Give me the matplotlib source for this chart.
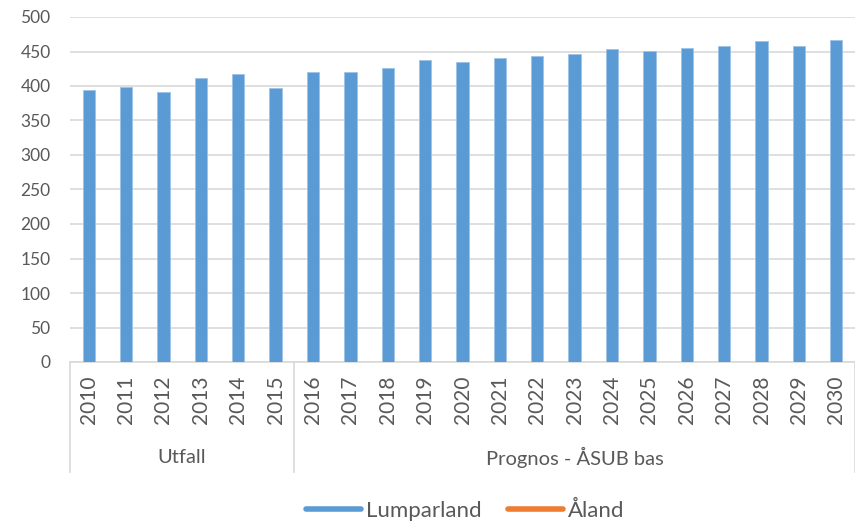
import matplotlib.pyplot as plt
from matplotlib.lines import Line2D
import matplotlib.transforms as mtransforms

plt.rcParams['font.family'] = ['Lato', 'DejaVu Sans']

# data
years = [str(y) for y in range(2010, 2031)]
lumparland = [394, 398, 392, 412, 418, 397, 420, 420, 426, 437, 435, 440,
              444, 446, 453, 451, 455, 458, 465, 458, 466]
groups = ['Utfall', 'Prognos - ÅSUB bas']
group_sizes = [6, 15]

grey = '#595959'
gridc = '#d9d9d9'
blue = '#5b9bd5'
orange = '#ed7d31'

fig = plt.figure(figsize=(8.55, 5.23), dpi=100)
ax = fig.add_axes([70 / 855, 1 - 362 / 523, 785 / 855, 345 / 523])

x = list(range(len(years)))
ax.bar(x, lumparland, width=0.33, color=blue, edgecolor='#9dc3e6', linewidth=0.6, zorder=3)

ax.set_xlim(-0.5, len(years) - 0.5)
ax.set_ylim(0, 500)
ax.set_yticks(range(0, 501, 50))
ax.yaxis.grid(True, color=gridc, linewidth=1.2, zorder=0)
for s in ['top', 'right', 'left']:
    ax.spines[s].set_visible(False)
ax.spines['bottom'].set_color(gridc)
ax.spines['bottom'].set_linewidth(1.2)

ax.set_xticks(x)
ax.set_xticklabels(years, rotation=90)
ax.tick_params(axis='x', length=0, pad=10, labelsize=15, labelcolor=grey)
ax.tick_params(axis='y', length=0, pad=14, labelsize=12.5, labelcolor=grey)

# multi-level category axis: group separators and labels
trans = mtransforms.blended_transform_factory(ax.transData, ax.transAxes)
edges = [-0.5]
for n in group_sizes:
    edges.append(edges[-1] + n)
for e in edges:
    ax.plot([e, e], [0, -0.319], transform=trans, color=gridc, linewidth=1.2,
            clip_on=False)
for i, g in enumerate(groups):
    ax.text((edges[i] + edges[i + 1]) / 2, -0.278, g, transform=trans,
            ha='center', va='center', fontsize=14.5, color=grey)

handles = [Line2D([], [], color=blue, linewidth=4, solid_capstyle='round'),
           Line2D([], [], color=orange, linewidth=4, solid_capstyle='round')]
fig.legend(handles, ['Lumparland', 'Åland'], loc='center',
           bbox_to_anchor=(465 / 855, 1 - 511 / 523), ncol=2, frameon=False,
           fontsize=16, labelcolor=grey, handlelength=2.5, handletextpad=0.2,
           columnspacing=1.2)

fig.savefig('out.png', dpi=100)
